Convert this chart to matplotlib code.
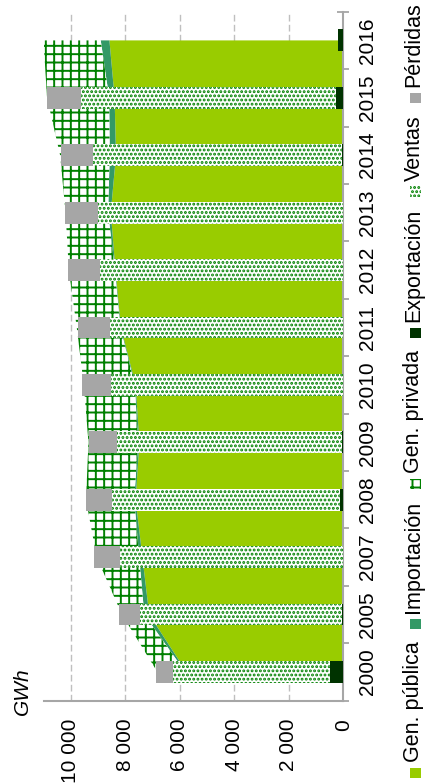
import numpy as np
import matplotlib
matplotlib.use('Agg')
import matplotlib.pyplot as plt
from matplotlib.patches import Rectangle
from matplotlib.ticker import FuncFormatter

# datos (GWh)
years = ['2000', '2005', '2007', '2008', '2009', '2010', '2011', '2012', '2013', '2014', '2015', '2016']
gen_publica = [5750, 7120, 7370, 7620, 7480, 7620, 8160, 8360, 8530, 8340, 8390, 8580]
importacion = [50, 180, 120, 50, 50, 30, 20, 20, 100, 230, 200, 320]
gen_privada = [1020, 820, 1560, 1770, 1820, 1870, 1600, 1690, 1560, 1820, 2280, 2100]
exportacion = [480, 30, 20, 100, 50, 20, 0, 0, 0, 60, 270, 180]
ventas = [5780, 7430, 8170, 8370, 8260, 8510, 8550, 8940, 9010, 9130, 9360, np.nan]
perdidas = [620, 770, 950, 970, 1020, 1040, 1200, 1160, 1190, 1180, 1250, np.nan]

plt.rcParams['font.family'] = ['Liberation Sans', 'DejaVu Sans']
plt.rcParams['hatch.linewidth'] = 1.4
plt.rcParams['hatch.color'] = '#008000'

W, H = 425, 783
fig = plt.figure(figsize=(W / 100, H / 100), dpi=100)
ax = fig.add_axes([43.5 / W, 1 - 700.7 / H, 299.7 / W, 689 / H])

pos = np.arange(len(years))
gp = np.array(gen_publica, dtype=float)
s2 = gp + np.array(importacion)
s3 = s2 + np.array(gen_privada)

# areas (oferta)
ax.fill_betweenx(pos, 0, gp, facecolor='#99CC00', edgecolor='none', zorder=2)
ax.fill_betweenx(pos, gp, s2, facecolor='#339966', edgecolor='none', zorder=2)
ax.fill_betweenx(pos, s2, s3, facecolor='white', edgecolor='#008000', hatch='++',
                 linewidth=0, zorder=2)

# barras (demanda)
exp = np.array(exportacion, dtype=float)
ven = np.array(ventas, dtype=float)
per = np.array(perdidas, dtype=float)
ok = ~np.isnan(ven)
h = 0.38
ax.barh(pos, exp, height=h, color='#003300', zorder=3)
ax.barh(pos[ok], ven[ok], left=exp[ok], height=h, facecolor='white',
        edgecolor='#008000', hatch='....', linewidth=0, zorder=3)
ax.barh(pos[ok], per[ok], left=(exp + ven)[ok], height=h, color='#A6A6A6', zorder=3)

# ejes
ax.set_xlim(11000, 0)
ax.set_ylim(-0.5, len(years) - 0.5)
ax.set_xticks(range(0, 10001, 2000))
ax.xaxis.set_major_formatter(FuncFormatter(lambda v, p: f'{int(v):,}'.replace(',', ' ')))
ax.tick_params(axis='x', length=0, labelrotation=90, labelsize=15, pad=13)
ax.xaxis.grid(True, color='#BFBFBF', linestyle=(0, (4.8, 2.4)), linewidth=1.0)
ax.set_axisbelow(True)

ax.yaxis.tick_right()
ax.set_yticks(pos, labels=years)
ax.set_yticks(np.arange(-0.5, len(years), 1), minor=True)
ax.tick_params(axis='y', which='major', length=0, labelrotation=90, labelsize=15, pad=11)
ax.tick_params(axis='y', which='minor', length=9, width=1.3, direction='inout', color='#A6A6A6')
for lab in ax.get_yticklabels():
    lab.set_va('center')

for s in ['top', 'left']:
    ax.spines[s].set_visible(False)
for s in ['right', 'bottom']:
    ax.spines[s].set_color('#A6A6A6')
    ax.spines[s].set_linewidth(1.5)

fig.text(22.5 / W, 1 - 691 / H, 'GWh', rotation=90, style='italic', fontsize=15,
         ha='center', va='center')

# leyenda (rotada)
items = [
    ('Gen. pública', dict(facecolor='#99CC00', edgecolor='none')),
    ('Importación', dict(facecolor='#339966', edgecolor='none')),
    ('Gen. privada', dict(facecolor='white', edgecolor='#008000', hatch='++', linewidth=0)),
    ('Exportación', dict(facecolor='#003300', edgecolor='none')),
    ('Ventas', dict(facecolor='white', edgecolor='#008000', hatch='....', linewidth=0)),
    ('Pérdidas', dict(facecolor='#A6A6A6', edgecolor='none')),
]
renderer = fig.canvas.get_renderer()
y = 5
for label, style in items:
    fig.add_artist(Rectangle((410 / W, y / H), 10.5 / W, 10.5 / H,
                             transform=fig.transFigure, **style))
    t = fig.text(414 / W, (y + 16) / H, label, rotation=90, fontsize=15.5,
                 ha='center', va='bottom')
    bb = t.get_window_extent(renderer)
    y = bb.y1 + 12

fig.savefig('out.png', dpi=100)
